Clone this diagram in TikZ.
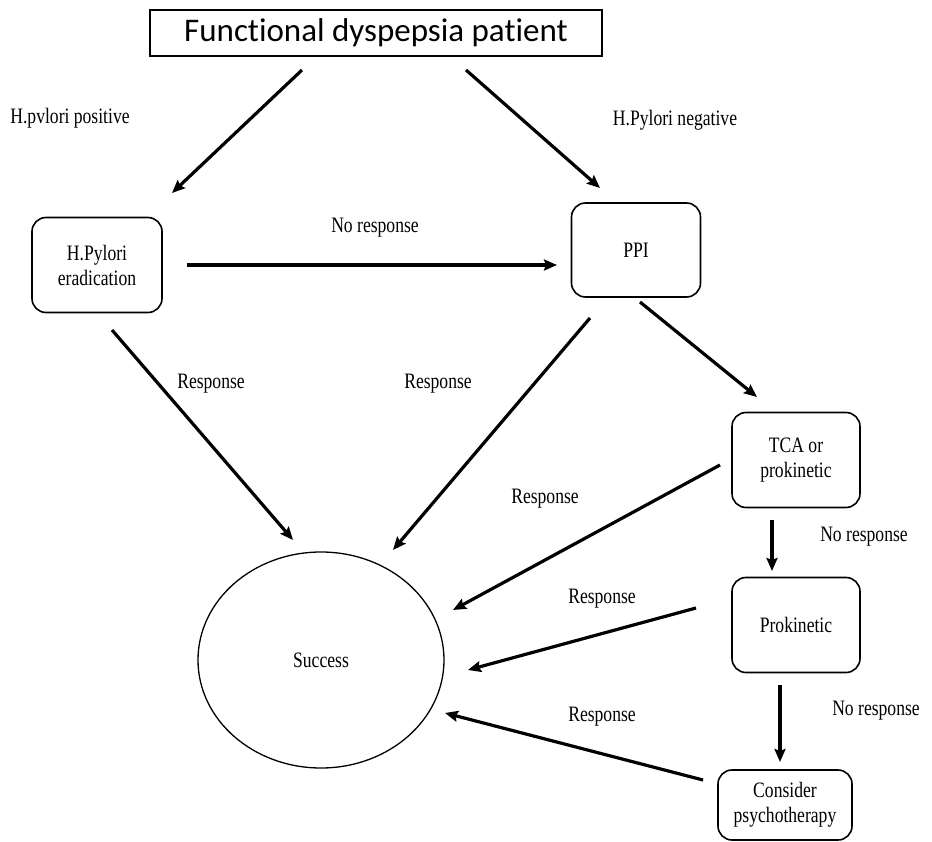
\documentclass[tikz,border=0pt]{standalone}
\usepackage{fontspec}
\setmainfont[FakeStretch=0.8]{Liberation Serif}
\newfontfamily\titlefont[Ligatures={NoCommon,NoRare}]{Carlito}
\usetikzlibrary{arrows.meta,shapes.geometric}
\begin{document}
\begin{tikzpicture}[x=1pt,y=-1pt,
  lbl/.style={font=\fontsize{22}{24}\selectfont, inner sep=0pt},
  rbox/.style={draw, line width=1.6pt, rounded corners=14pt, align=center,
    font=\fontsize{22}{25}\selectfont, inner sep=0pt},
  arr/.style={line width=3.2pt, -{Stealth[length=13pt,width=11pt,inset=2pt]}}]
\useasboundingbox (0,0) rectangle (932,842);
\node[draw, line width=1.5pt, minimum width=452pt, minimum height=46pt, inner sep=0pt,
  font=\titlefont\fontsize{33}{36}\selectfont] (title) at (376,33) {Functional dyspepsia patient};
\node[rbox, minimum width=130pt, minimum height=95pt] (erad) at (97,265) {H.Pylori\\eradication};
\node[rbox, minimum width=129pt, minimum height=94pt] (ppi) at (636,250) {PPI};
\node[rbox, minimum width=128pt, minimum height=95pt] (tca) at (796,460) {TCA or\\prokinetic};
\node[rbox, minimum width=128pt, minimum height=95pt] (prok) at (796,625) {Prokinetic};
\node[rbox, minimum width=134pt, minimum height=70pt] (cons) at (785,805) {Consider\\psychotherapy};
\node[draw, ellipse, line width=1.3pt, minimum width=246pt, minimum height=216pt, inner sep=0pt,
  font=\fontsize{22}{24}\selectfont] (succ) at (321,660) {Success};
% labels
\node[lbl] (lpos) at (70,118) {H.pvlori positive};
\node[lbl] (lneg) at (675,120) {H.Pylori negative};
\node[lbl] (lnr1) at (375,228) {No response};
\node[lbl] (lr1) at (211,384) {Response};
\node[lbl] (lr2) at (438,384) {Response};
\node[lbl] (lr3) at (545,499) {Response};
\node[lbl] (lr4) at (602,599) {Response};
\node[lbl] (lr5) at (602,717) {Response};
\node[lbl] (lnr2) at (864,537) {No response};
\node[lbl] (lnr3) at (876,711) {No response};
% arrows
\draw[arr] ([shift={(-74,37)}]title.center) -- ([shift={(75,-72)}]erad.center);
\draw[arr] ([shift={(90,37)}]title.center) -- ([shift={(-36,-62)}]ppi.center);
\draw[arr] ([shift={(90,0)}]erad.center) -- ([shift={(-79,15)}]ppi.center);
\draw[arr] ([shift={(15,65)}]erad.center) -- ([shift={(-28,-120)}]succ.center);
\draw[arr] ([shift={(-46,68)}]ppi.center) -- ([shift={(72,-110)}]succ.center);
\draw[arr] ([shift={(4,52)}]ppi.center) -- ([shift={(-39,-63)}]tca.center);
\draw[arr] ([shift={(-76,5)}]tca.center) -- ([shift={(132,-50)}]succ.center);
\draw[arr] ([shift={(-24,60)}]tca.center) -- ([shift={(-24,-54)}]prok.center);
\draw[arr] ([shift={(-100,-17)}]prok.center) -- ([shift={(147,10)}]succ.center);
\draw[arr] ([shift={(-16,60)}]prok.center) -- ([shift={(-5,-43)}]cons.center);
\draw[arr] ([shift={(-82,-25)}]cons.center) -- ([shift={(124,53)}]succ.center);
\end{tikzpicture}
\end{document}
